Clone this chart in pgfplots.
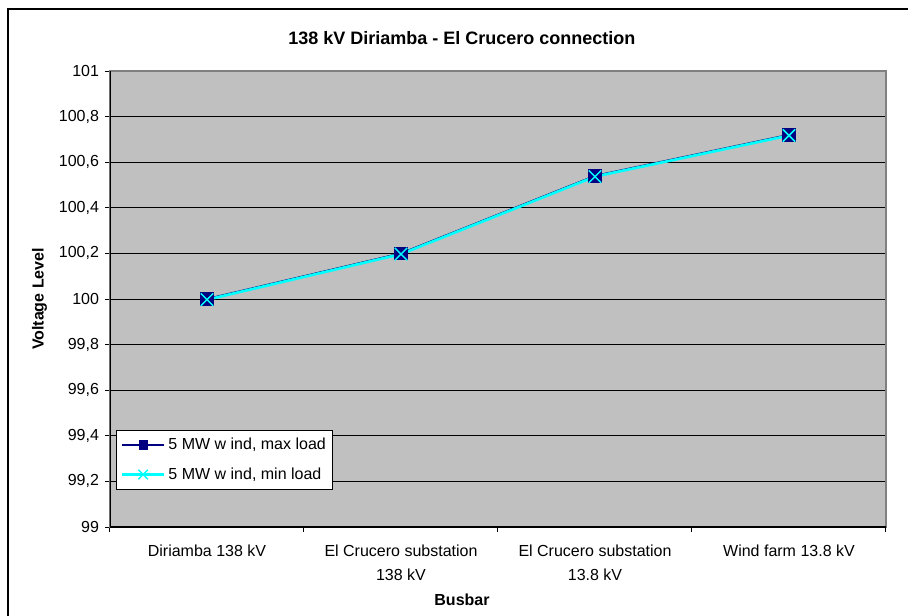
\documentclass[border=0pt]{standalone}
\usepackage{pgfplots}
\pgfplotsset{compat=1.18}
\usepackage{fontspec}
\setmainfont{Liberation Sans}
\definecolor{plotgray}{RGB}{192,192,192}
\definecolor{bordergray}{RGB}{128,128,128}
\definecolor{navyc}{RGB}{0,0,128}
\definecolor{cyanc}{RGB}{0,255,255}
\begin{document}
\begin{tikzpicture}
\useasboundingbox (0pt,0pt) rectangle (681pt,-461.25pt);
\draw[black, line width=0.9pt] (6pt,-6.75pt) rectangle (700pt,-480pt);
\begin{axis}[
  at={(82.5pt,-395.25pt)}, anchor=south west,
  scale only axis, width=582pt, height=342pt,
  xmin=-0.5, xmax=3.5, ymin=99, ymax=101,
  axis background/.style={fill=plotgray},
  axis line style={draw=bordergray, line width=1.1pt},
  ytick={99,99.2,99.4,99.6,99.8,100,100.2,100.4,100.6,100.8,101},
  yticklabels={99,{99,2},{99,4},{99,6},{99,8},100,{100,2},{100,4},{100,6},{100,8},101},
  ymajorgrids, grid style={black, line width=0.75pt},
  xtick={-0.5,0.5,1.5,2.5,3.5}, xticklabels={},
  extra x ticks={0,1,2,3},
  extra x tick labels={Diriamba 138 kV, El Crucero substation\\138 kV, El Crucero substation\\13.8 kV, Wind farm 13.8 kV},
  extra x tick style={major tick length=0pt, grid=none},
  tick align=outside, tick pos=left, major tick length=3.75pt,
  tick style={black, line width=0.75pt},
  /pgf/number format/assume math mode=true,
  ticklabel style={font=\fontsize{12}{18}\selectfont},
  xticklabel style={align=center, yshift=-10pt},
  yticklabel style={xshift=-1pt},
  title={138 kV Diriamba - El Crucero connection},
  title style={font=\bfseries\fontsize{13.5}{16}\selectfont, at={(0.4535,1)}, anchor=south, yshift=10.5pt},
  xlabel={Busbar}, ylabel={Voltage Level},
  label style={font=\bfseries\fontsize{12}{14}\selectfont},
  xlabel style={at={(0.4536,0)}, anchor=north, yshift=-47pt},
  ylabel style={yshift=2pt},
  legend style={at={(0.008,0.213)}, anchor=north west, draw=black, fill=white,
    font=\fontsize{12}{14}\selectfont, inner ysep=4pt, inner xsep=3pt, row sep=8pt,
    legend cell align=left},
  legend image code/.code={\draw[#1, mark repeat=2, mark phase=2] plot coordinates {(0pt,0pt) (16pt,0pt) (32pt,0pt)};},
]
\addplot[navyc, line width=1.5pt, mark=square*, mark size=4.8pt, mark options={fill=navyc, draw=navyc, line width=0.5pt},
  legend image post style={mark size=3.2pt}]
  coordinates {(0,100.0) (1,100.2) (2,100.54) (3,100.72)};
\addlegendentry{5 MW w ind, max load}
\addplot[cyanc, line width=2pt, mark=x, mark size=6.6pt, mark options={cyanc, line width=1.1pt},
  legend image post style={mark size=5pt}]
  coordinates {(0,99.997) (1,100.197) (2,100.537) (3,100.717)};
\addlegendentry{5 MW w ind, min load}
\draw[black, line width=0.9pt] (rel axis cs:0,0) -- (rel axis cs:0,1);
\draw[black, line width=0.9pt] (rel axis cs:0,0) -- (rel axis cs:1,0);
\end{axis}
\end{tikzpicture}
\end{document}
